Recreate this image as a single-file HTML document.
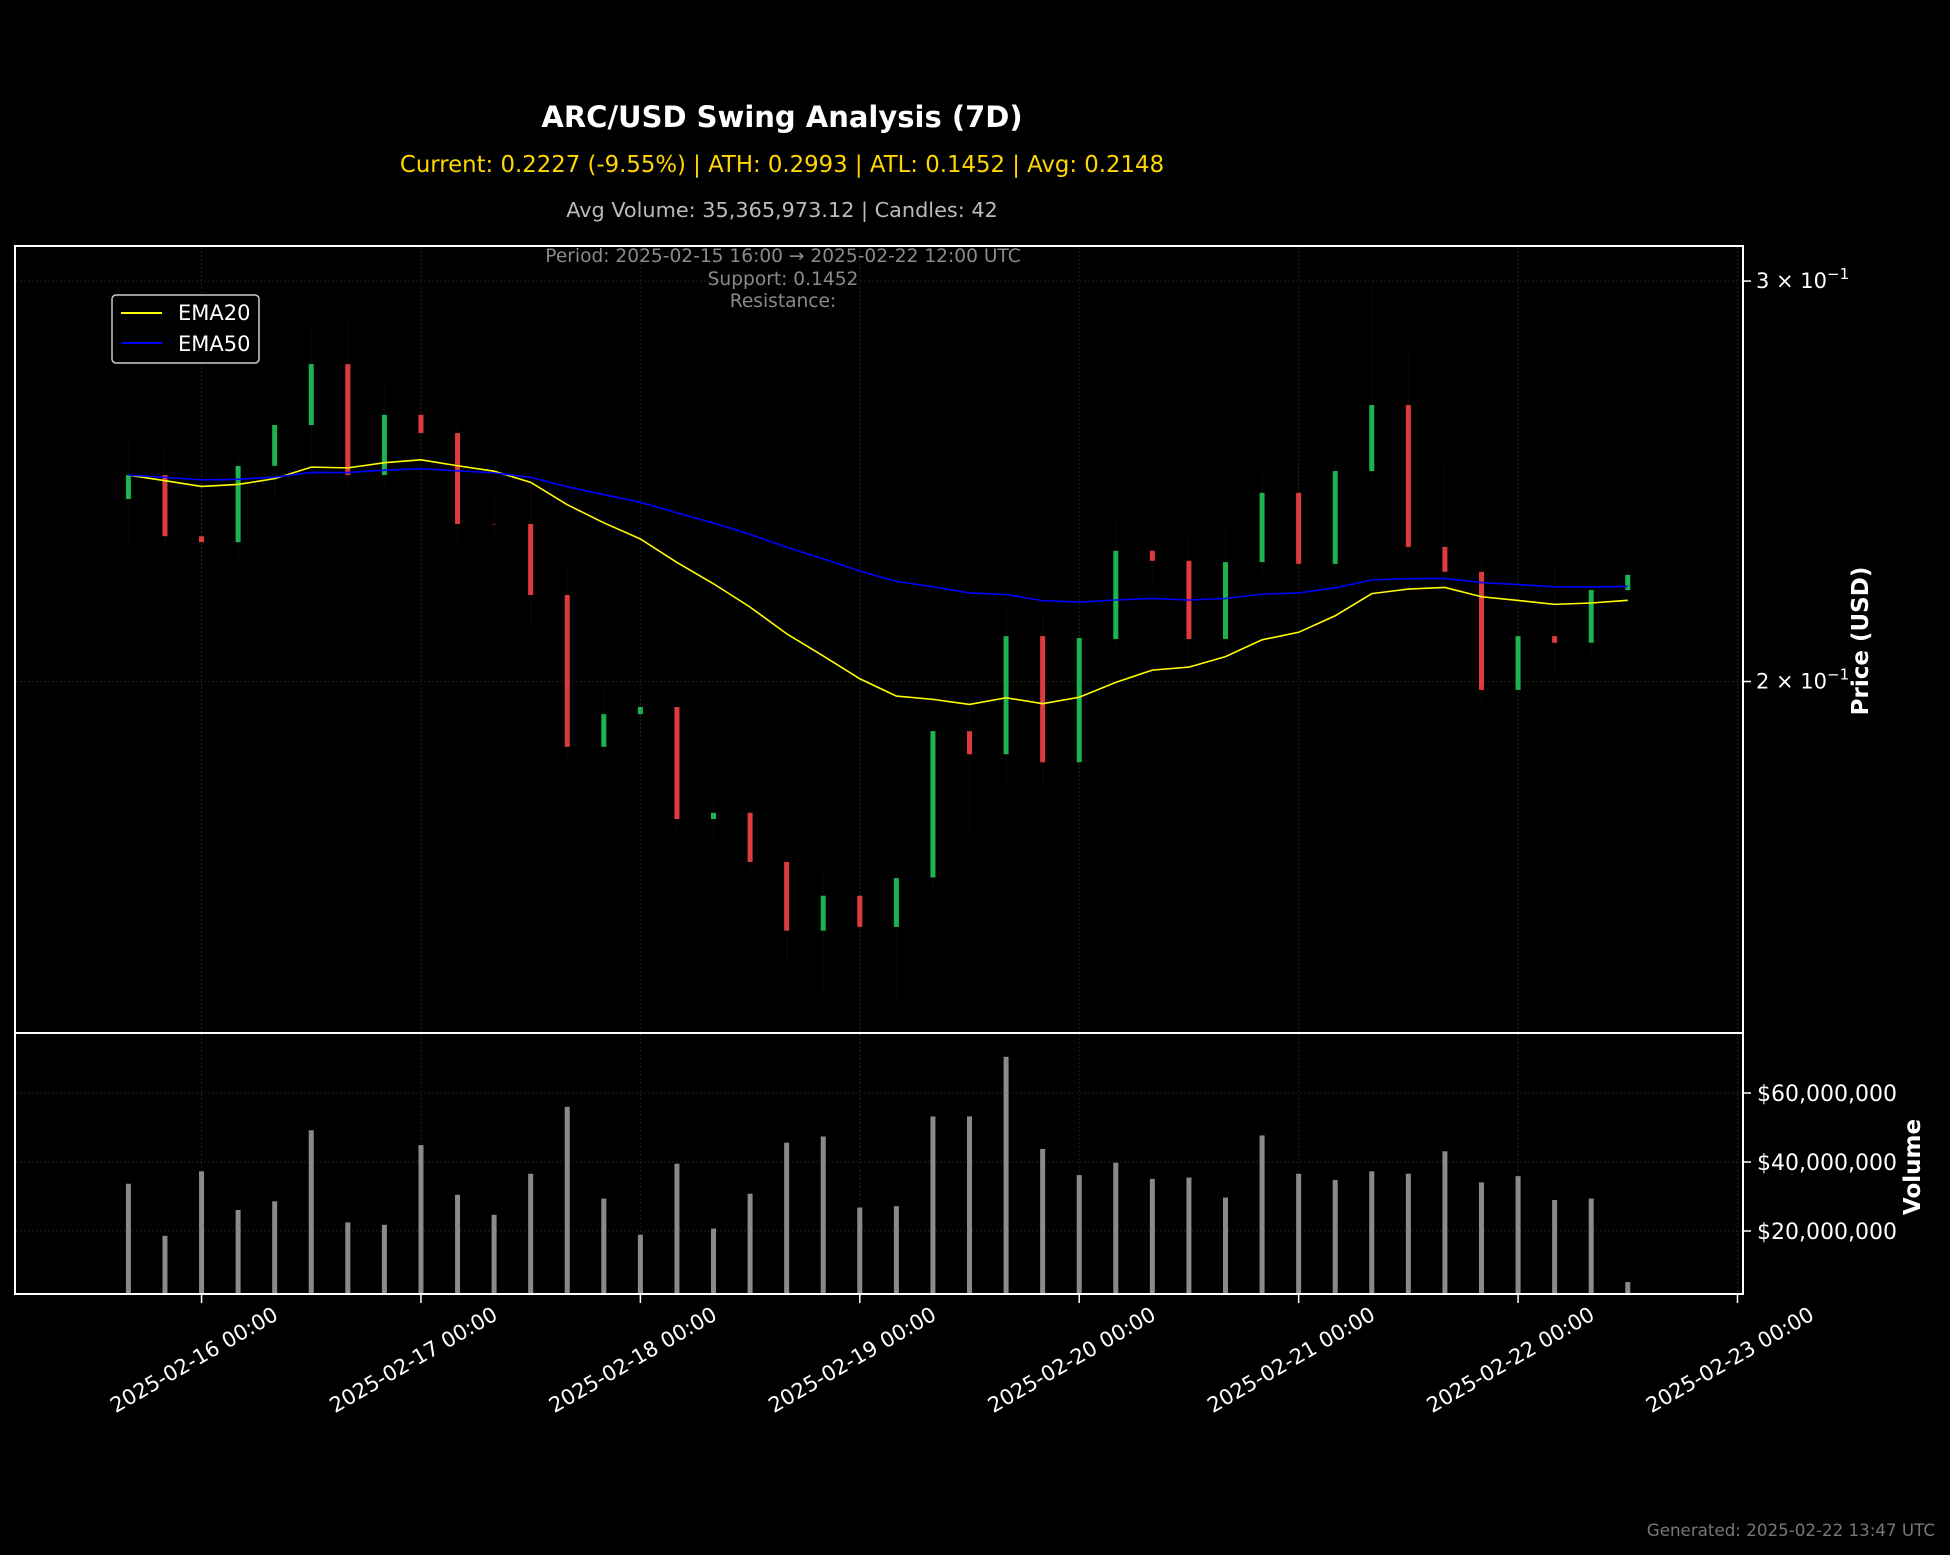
<!DOCTYPE html>
<html><head><meta charset="utf-8"><style>
html,body{margin:0;padding:0;background:#000;}
svg{display:block;}
text{font-family:"DejaVu Sans","Liberation Sans",sans-serif;}
</style></head>
<body>
<svg id="chart" width="1950" height="1555" viewBox="0 0 1950 1555" xmlns="http://www.w3.org/2000/svg">
<rect x="0" y="0" width="1950" height="1555" fill="#000"/>
<text x="782" y="127" text-anchor="middle" font-size="29" font-weight="bold" fill="#fff">ARC/USD Swing Analysis (7D)</text>
<text x="782" y="172" text-anchor="middle" font-size="22.8" fill="#ffd700">Current: 0.2227 (-9.55%) | ATH: 0.2993 | ATL: 0.1452 | Avg: 0.2148</text>
<text x="782" y="217" text-anchor="middle" font-size="20.8" fill="#bbbbbb">Avg Volume: 35,365,973.12 | Candles: 42</text>
<g id="gridlayer"></g>
<g id="vollayer"></g>
<g id="candlelayer"></g>
<g id="emalayer"></g>
<text x="783" y="262" text-anchor="middle" font-size="18.6" fill="#8a8a8a">Period: 2025-02-15 16:00 → 2025-02-22 12:00 UTC</text>
<text x="783" y="285" text-anchor="middle" font-size="18.6" fill="#8a8a8a">Support: 0.1452</text>
<text x="783" y="307" text-anchor="middle" font-size="18.6" fill="#8a8a8a">Resistance:</text>
<rect x="15" y="246" width="1728" height="787" fill="none" stroke="#fff" stroke-width="2"/>
<rect x="15" y="1033" width="1728" height="261" fill="none" stroke="#fff" stroke-width="2"/>
<g>
<rect x="112" y="295" width="147" height="68" rx="4" fill="#000" stroke="#ccc" stroke-width="1.5"/>
<line x1="121" y1="313" x2="162" y2="313" stroke="#ffff00" stroke-width="2"/>
<text x="178" y="320" font-size="21" fill="#fff">EMA20</text>
<line x1="121" y1="343" x2="162" y2="343" stroke="#0000ff" stroke-width="2"/>
<text x="178" y="351" font-size="21" fill="#fff">EMA50</text>
</g>
<g id="axislayer"></g>
<text transform="translate(1868,641) rotate(-90)" text-anchor="middle" font-size="23" font-weight="bold" fill="#fff">Price (USD)</text>
<text transform="translate(1920,1167) rotate(-90)" text-anchor="middle" font-size="23" font-weight="bold" fill="#fff">Volume</text>
<text x="1935" y="1536" text-anchor="end" font-size="16.7" fill="#777">Generated: 2025-02-22 13:47 UTC</text>
</svg>
<script>
const opens = [0.2406,0.2465,0.2317,0.2303,0.2488,0.2593,0.2758,0.2465,0.2620,0.2572,0.2346,0.2346,0.2183,0.1872,0.1935,0.1949,0.1740,0.1751,0.1666,0.1554,0.1610,0.1560,0.1640,0.1902,0.1858,0.2094,0.1843,0.2088,0.2283,0.2260,0.2088,0.2257,0.2421,0.2253,0.2475,0.2646,0.2292,0.2235,0.1983,0.2094,0.2080,0.2194];
const closes = [0.2465,0.2317,0.2303,0.2488,0.2593,0.2758,0.2465,0.2620,0.2572,0.2346,0.2345,0.2183,0.1872,0.1935,0.1949,0.1740,0.1751,0.1666,0.1554,0.1610,0.1560,0.1639,0.1902,0.1858,0.2094,0.1843,0.2090,0.2283,0.2260,0.2088,0.2257,0.2421,0.2253,0.2475,0.2646,0.2292,0.2235,0.1983,0.2094,0.2080,0.2194,0.2228];
const highs = [0.2550,0.2530,0.2470,0.2520,0.2560,0.2850,0.2880,0.2700,0.2660,0.2600,0.2420,0.2440,0.2250,0.1980,0.1960,0.1960,0.1780,0.1770,0.1680,0.1650,0.1640,0.1650,0.1910,0.1960,0.2160,0.2140,0.2130,0.2350,0.2300,0.2320,0.2330,0.2480,0.2500,0.2500,0.2993,0.2800,0.2500,0.2260,0.2110,0.2250,0.2200,0.2250];
const lows = [0.2290,0.2290,0.2250,0.2260,0.2400,0.2470,0.2440,0.2430,0.2540,0.2290,0.2310,0.2120,0.1850,0.1860,0.1900,0.1720,0.1700,0.1640,0.1500,0.1460,0.1530,0.1452,0.1620,0.1720,0.1800,0.1800,0.1820,0.2070,0.2200,0.2040,0.2070,0.2220,0.2240,0.2240,0.2450,0.2270,0.2190,0.1960,0.1980,0.2020,0.2050,0.2180];
const volumes = [33.7e6,18.6e6,37.3e6,26.1e6,28.6e6,49.2e6,22.5e6,21.8e6,44.9e6,30.5e6,24.7e6,36.6e6,56.0e6,29.4e6,18.9e6,39.5e6,20.7e6,30.8e6,45.6e6,47.4e6,26.8e6,27.2e6,53.2e6,53.2e6,70.5e6,43.8e6,36.2e6,39.8e6,35.1e6,35.5e6,29.7e6,47.7e6,36.6e6,34.8e6,37.3e6,36.6e6,43.1e6,34.1e6,35.9e6,29.0e6,29.4e6,5.2e6];
const xTickLabels = ["2025-02-16 00:00","2025-02-17 00:00","2025-02-18 00:00","2025-02-19 00:00","2025-02-20 00:00","2025-02-21 00:00","2025-02-22 00:00","2025-02-23 00:00"];
const priceTicks = [0.2,0.3];
const priceTickLabels = ["2","3"];
const volumeTicks = [20e6,40e6,60e6];
const volumeTickLabels = ["$20,000,000","$40,000,000","$60,000,000"];

const NS = "http://www.w3.org/2000/svg";
function mk(tag, attrs, parent){const e=document.createElementNS(NS,tag);for(const k in attrs)e.setAttribute(k,attrs[k]);parent.appendChild(e);return e;}
const X0 = 128.4, CANDLE_W = 36.57;
function xIdx(i){return X0 + i*CANDLE_W;}
function xDay(d){return X0 + (d*6+2)*CANDLE_W;}
function yPrice(p){return 681.5 - 2274*Math.log10(p/0.2);}
function yVol(v){return 1300 - v*(138/40e6);}

const grid = document.getElementById('gridlayer');
const axes = document.getElementById('axislayer');
const vl = document.getElementById('vollayer');
const cl = document.getElementById('candlelayer');
const el = document.getElementById('emalayer');
const GRID = '#22220c';

xTickLabels.forEach((lab,d)=>{
  const x = xDay(d);
  const g1 = mk('line',{x1:x,y1:247,x2:x,y2:1032,stroke:GRID,'stroke-width':1,'stroke-dasharray':'2,2'},grid);
  
  
  const g2 = mk('line',{x1:x,y1:1034,x2:x,y2:1293,stroke:GRID,'stroke-width':1,'stroke-dasharray':'2,2'},grid);
  
  
  const tk = mk('line',{x1:x,y1:1295,x2:x,y2:1303,stroke:'#fff','stroke-width':1.5},axes);
  
  
  const t = mk('text',{transform:`translate(${x-4},1366) rotate(-30)`,'text-anchor':'middle','font-size':21,fill:'#fff'},axes);
  t.textContent = lab;
  
  
});
priceTicks.forEach((p,i)=>{
  const y = yPrice(p);
  const g = mk('line',{x1:16,y1:y,x2:1742,y2:y,stroke:GRID,'stroke-width':1,'stroke-dasharray':'2,2'},grid);
  
  
  const tk = mk('line',{x1:1743,y1:y,x2:1751,y2:y,stroke:'#fff','stroke-width':1.5},axes);
  
  
  const t = mk('text',{x:1756,y:y+7,'font-size':21,fill:'#fff'},axes);
  
  
  const s1 = mk('tspan',{},t); s1.textContent = priceTickLabels[i]+' \u00d7 10';
  const s2 = mk('tspan',{dy:-9,'font-size':15},t); s2.textContent='\u22121';
});
volumeTicks.forEach((v,i)=>{
  const y = yVol(v);
  const g = mk('line',{x1:16,y1:y,x2:1742,y2:y,stroke:GRID,'stroke-width':1,'stroke-dasharray':'2,2'},grid);
  
  
  const tk = mk('line',{x1:1743,y1:y,x2:1751,y2:y,stroke:'#fff','stroke-width':1.5},axes);
  
  
  const t = mk('text',{x:1757,y:y+8,'font-size':22,fill:'#fff'},axes);
  t.textContent = volumeTickLabels[i];
  
  
});

volumes.forEach((v,i)=>{
  const x = xIdx(i), y = yVol(v);
  const r = mk('rect',{x:x-2.5,y:y,width:5,height:Math.max(0,1294-y),fill:'#8a8a8a'},vl);
  
  
});

opens.forEach((o,i)=>{
  const c = closes[i], x = xIdx(i);
  const up = c >= o;
  const col = up ? '#1db34e' : '#dc3c3c';
  const w = mk('line',{x1:x,y1:yPrice(highs[i]),x2:x,y2:yPrice(lows[i]),stroke:col,'stroke-opacity':0.06,'stroke-width':1.5},cl);
  
  
  const top = yPrice(Math.max(o,c)), bot = yPrice(Math.min(o,c));
  const b = mk('rect',{x:x-2.5,y:top,width:5,height:Math.max(0.3,bot-top),fill:col},cl);
  
  
});

function ema(arr,n){const a=2/(n+1);const out=[arr[0]];for(let i=1;i<arr.length;i++)out.push(a*arr[i]+(1-a)*out[i-1]);return out;}
const ema20 = ema(closes,20), ema50 = ema(closes,50);
const p20 = mk('polyline',{points:ema20.map((v,i)=>xIdx(i)+','+yPrice(v)).join(' '),fill:'none',stroke:'#ffff00','stroke-width':1.6},el);


const p50 = mk('polyline',{points:ema50.map((v,i)=>xIdx(i)+','+yPrice(v)).join(' '),fill:'none',stroke:'#0000ff','stroke-width':1.6},el);


</script>
</body></html>
